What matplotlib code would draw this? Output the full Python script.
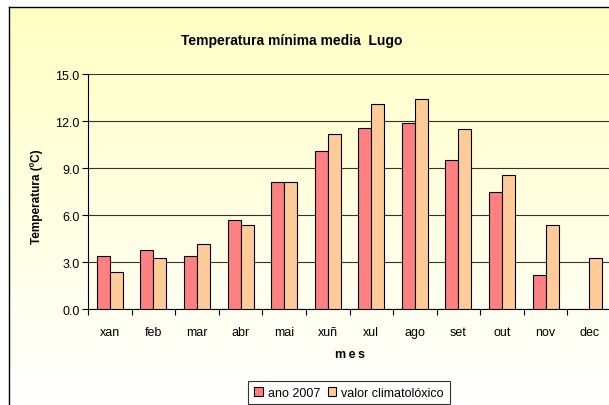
import numpy as np
import matplotlib
matplotlib.use("Agg")
import matplotlib.pyplot as plt
from matplotlib.patches import Patch

plt.rcParams['font.family'] = ['Liberation Sans', 'DejaVu Sans']

# datos
meses = ["xan", "feb", "mar", "abr", "mai", "xuñ", "xul", "ago", "set", "out", "nov", "dec"]
ano_2007 = [3.4, 3.8, 3.4, 5.7, 8.1, 10.1, 11.6, 11.9, 9.5, 7.5, 2.2, np.nan]
climatoloxico = [2.4, 3.3, 4.2, 5.4, 8.1, 11.2, 13.1, 13.4, 11.5, 8.6, 5.4, 3.3]
yticks = [0, 3, 6, 9, 12, 15]

W, H = 609, 406
fig = plt.figure(figsize=(W / 100, H / 100), dpi=100)
fig.patch.set_facecolor("white")

# fondo do grafico con degradado
bg = fig.add_axes([9 / W, 0, 1, (H - 8) / H], zorder=-2)
grad = np.linspace(0, 1, 256).reshape(-1, 1)
cmap = matplotlib.colors.LinearSegmentedColormap.from_list("fondo", ["#FFFFC4", "#FFFFFF"])
bg.imshow(grad, aspect="auto", cmap=cmap, extent=[0, 1, 0, 1], origin="upper")
bg.set_xticks([])
bg.set_yticks([])
for s in ["right", "bottom"]:
    bg.spines[s].set_visible(False)
for s in ["left", "top"]:
    bg.spines[s].set_linewidth(1.0)

ax = fig.add_axes([88 / W, (H - 310.3) / H, 523 / W, (310.3 - 75.3) / H])
ax.set_facecolor("none")

x = np.arange(len(meses))
w = 0.298
ax.bar(x - w, ano_2007, width=w, align="edge", color="#FF8080", edgecolor="black", linewidth=0.8, zorder=3)
ax.bar(x, climatoloxico, width=w, align="edge", color="#FFCC99", edgecolor="black", linewidth=0.8, zorder=3)

ax.set_xlim(-0.5, len(meses) - 0.5)
ax.set_ylim(0, 15)
ax.set_yticks(yticks)
ax.set_yticklabels([f"{v:.1f}" for v in yticks], fontsize=9)
ax.yaxis.grid(True, color="#333333", linewidth=0.8, zorder=0)
ax.set_axisbelow(True)

# etiquetas no centro, marcas entre categorias
ax.set_xticks(x)
ax.set_xticklabels(meses, fontsize=9)
ax.set_xticks(np.arange(-0.5, len(meses)), minor=True)
ax.tick_params(axis="x", which="major", length=0, pad=12)
ax.tick_params(axis="x", which="minor", length=4, width=0.8, direction="out")
ax.tick_params(axis="y", length=4, width=0.8, direction="out", pad=2)

for s in ["top", "right"]:
    ax.spines[s].set_visible(False)
for s in ["left", "bottom"]:
    ax.spines[s].set_linewidth(0.8)

fig.text(292 / W, 1 - 41 / H, "Temperatura mínima media  Lugo", ha="center", va="center",
         fontsize=10, fontweight="bold")
fig.text(37 / W, 1 - 197 / H, "Temperatura (ºC)", ha="center", va="center", rotation=90,
         fontsize=8.5, fontweight="bold")
fig.text(350 / W, 1 - 355 / H, "m\u2009e\u2009s", ha="center", va="center", fontsize=9,
         fontweight="bold")

handles = [Patch(facecolor="#FF8080", edgecolor="black", linewidth=0.8),
           Patch(facecolor="#FFCC99", edgecolor="black", linewidth=0.8)]
leg = fig.legend(handles, ["ano 2007", "valor climatolóxico"], loc="upper center",
                 bbox_to_anchor=(349 / W, 1 - 382 / H), ncol=2, fontsize=9, frameon=True,
                 fancybox=False, handlelength=0.7, handleheight=0.7, handletextpad=0.4,
                 columnspacing=0.6, borderpad=0.45, borderaxespad=0)
leg.get_frame().set_edgecolor("black")
leg.get_frame().set_linewidth(0.8)
leg.get_frame().set_facecolor("white")

fig.savefig("out.png", dpi=100)
